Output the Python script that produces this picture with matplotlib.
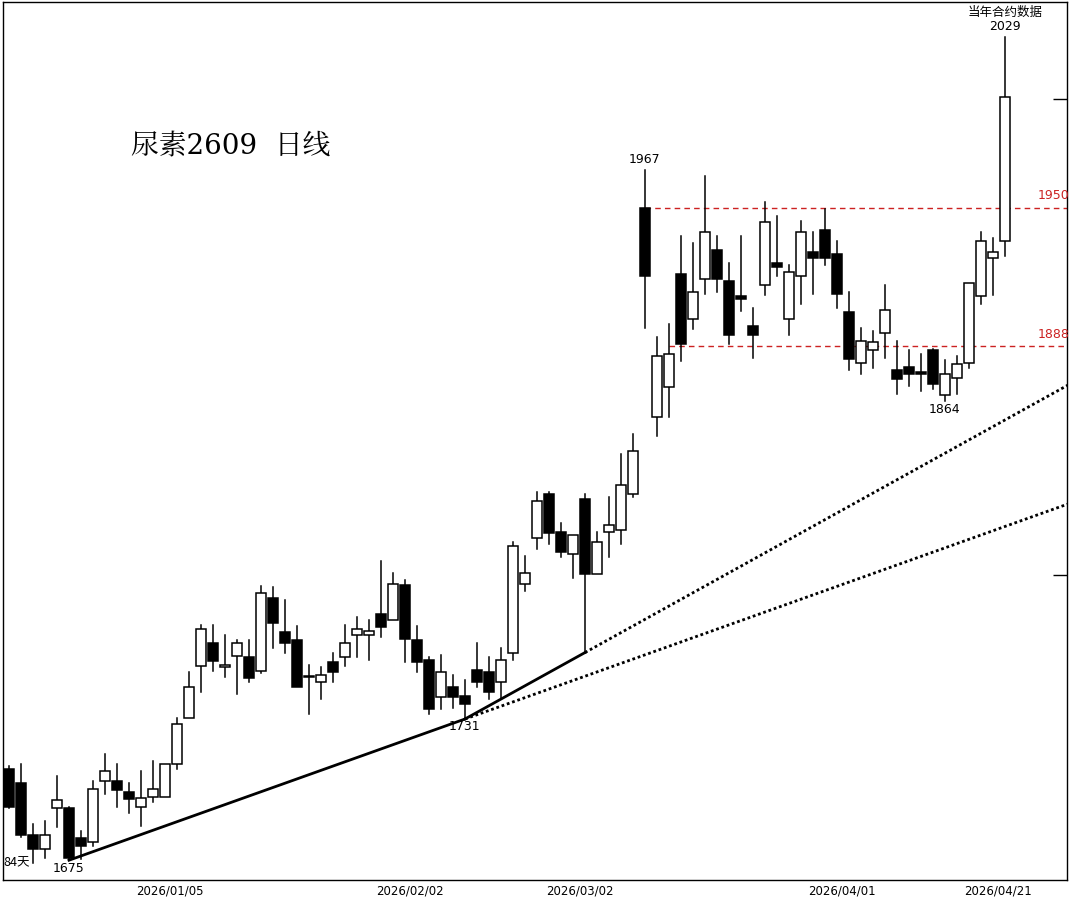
import numpy as np
import matplotlib
matplotlib.use("Agg")
import matplotlib.pyplot as plt
from matplotlib.patches import Rectangle

opens = [1711,1705.5,1685,1679.5,1695.5,1695.5,1683.5,1682,1706,1706,1702,1696,1700,1700,1713,1731.5,1752.5,1762,1752,1756.5,
         1756,1750.5,1780.5,1766.5,1763,1748.5,1746,1754,1756,1765,1765,1774,1771.5,1786,1763,1755,1740,1744,1740.5,1751,
         1750,1746,1758,1786.5,1805.5,1824,1808,1799,1822,1790.5,1808,1809,1824,1950,1857,1870,1920,1900,1918,1931,
         1917,1910,1897,1915,1925,1900,1919,1930,1940,1929,1903,1880.5,1886.5,1894,1877.5,1879,1876.5,1886.5,1866.5,1874,
         1880.5,1910,1927,1935]
highs = [1712,1713,1689,1690.5,1708,1696,1686.5,1706,1717,1713,1705.5,1710,1714,1713,1731.5,1750,1769.5,1769.5,1765,1763,
         1763,1785.5,1785,1779.5,1769,1753,1752,1758,1769.5,1772.5,1771.5,1796,1791,1788,1769,1756,1757,1749,1747,1762,
         1756,1760,1804,1798,1825,1825,1812,1807,1824,1808,1823,1841,1850,1967,1892,1898,1937,1934,1964.5,1937,
         1925,1937,1905,1952.5,1946,1924,1944,1939,1949.5,1935,1912,1896,1894.5,1915,1890.5,1886.5,1884.5,1887,1882,1883.5,
         1916,1939,1936,2029]
lows = [1695.5,1684,1674,1676,1688,1675,1675.5,1680.5,1701,1696,1693.5,1688.5,1698,1700,1711,1731.5,1742,1750.5,1748,1741,
        1746,1749.5,1760,1758,1744,1733,1739,1746,1752.5,1756,1755,1764.5,1771.5,1754,1750,1733,1735,1735.5,1731,1744,
        1739,1739,1755,1783.5,1801,1803,1797.5,1789,1758,1790.5,1797.5,1803,1823,1896,1849,1857,1881.5,1895.5,1911,1912,
        1889,1903.5,1883,1910.5,1919,1893,1906.5,1911,1924,1905,1877.5,1876,1878.5,1883,1867,1870.5,1868.5,1869.5,1864,1867,
        1878.5,1906.5,1910.5,1928]
closes = [1696,1685,1679.5,1685,1698.6,1676,1680.5,1703,1710,1702.5,1699,1699.5,1703,1713,1729,1744,1767.5,1754.5,1753,1762,
          1747.5,1782.5,1770,1762,1744,1748,1749,1750,1762,1767.5,1767,1768.5,1786.5,1763.5,1754,1735,1750,1740,1737,1746,
          1742,1755,1802,1791,1821,1807.5,1799.5,1807,1790.5,1804,1811,1828,1842.5,1919,1883.5,1884.5,1889,1912,1939,1918,
          1893,1909,1893,1943.5,1923,1921,1939,1927,1927,1911,1882.5,1890.5,1890,1904,1873.5,1876,1876,1871.5,1876,1880,
          1916,1935,1930,2001]

date_labels = ["2026/01/05", "2026/02/02", "2026/03/02", "2026/04/01", "2026/04/21"]
date_pos = [13.4, 33.4, 47.6, 69.4, 82.4]
levels = [1950, 1888]
level_start = [53, 55]
marks = [(53, 1967, "high"), (83, 2029, "high"), (78, 1864, "low"), (38, 1731, "low"), (5, 1675, "low")]

fig = plt.figure(figsize=(10.69, 9.0), dpi=100)
ax = fig.add_axes([3/1069, 20/900, 1064/1069, 878/900])
ax.set_yscale("log")
ax.set_xlim(-0.5, 88.17)
ax.set_ylim(1667.3, 2045.6)

w = 0.8
for i, (o, h, l, c) in enumerate(zip(opens, highs, lows, closes)):
    top, bot = max(o, c), min(o, c)
    ax.plot([i, i], [top, h], color="black", lw=1.1, zorder=2)
    ax.plot([i, i], [l, bot], color="black", lw=1.1, zorder=2)
    up = c >= o
    ax.add_patch(Rectangle((i - w/2, bot), w, max(top - bot, 0.6),
                           facecolor="white" if up else "black",
                           edgecolor="black", lw=1.1, zorder=3))

def logline(i1, p1, i2, p2, x):
    return np.exp(np.log(p1) + (np.log(p2) - np.log(p1)) * (x - i1) / (i2 - i1))

p5, p38, p48 = lows[5], lows[38], lows[48]
ax.plot([5, 38], [p5, p38], color="black", lw=2, zorder=4)
ax.plot([38, 48], [p38, p48], color="black", lw=2, zorder=4)
xe = 88.5
ax.plot([38, xe], [p38, logline(5, p5, 38, p38, xe)], color="black", lw=2, ls=(0, (1, 1)), zorder=4)
ax.plot([48, xe], [p48, logline(38, p38, 48, p48, xe)], color="black", lw=2, ls=(0, (1, 1)), zorder=4)

for lv, st in zip(levels, level_start):
    ax.plot([st, 88.17], [lv, lv], color="#cc2222", lw=1, ls=(0, (4, 3)), zorder=1)
    ax.text(88.4, lv * 1.0012, str(lv), color="#cc2222", fontsize=9, ha="right", va="bottom", clip_on=False)

for i, v, k in marks:
    if k == "high":
        ax.annotate(str(v), (i, v), xytext=(0, 3), textcoords="offset points", ha="center", va="bottom", fontsize=9)
    else:
        ax.annotate(str(v), (i, v), xytext=(0, -1), textcoords="offset points", ha="center", va="top", fontsize=9)

ax.text(83, 0.995, "当年合约数据", transform=ax.get_xaxis_transform(), ha="center", va="top", fontsize=9,
        family=["Noto Sans CJK SC", "DejaVu Sans"])
ax.text(0.0, 0.012, "84天", transform=ax.transAxes, ha="left", va="bottom", fontsize=9,
        family=["Noto Sans CJK SC", "DejaVu Sans"])
ax.text(0.12, 0.835, "尿素2609  日线", transform=ax.transAxes, ha="left", va="center", fontsize=20,
        family=["DejaVu Serif", "Noto Serif CJK SC", "Noto Sans CJK SC"])

ax.set_xticks(date_pos)
ax.set_xticklabels(date_labels, fontsize=8.5)
ax.tick_params(axis="x", length=0, pad=3)
ax.set_yticks([2000, 1790])
ax.set_yticks([], minor=True)
ax.yaxis.tick_right()
ax.tick_params(axis="y", which="major", direction="in", length=10, labelright=False, width=1)
for s in ax.spines.values():
    s.set_linewidth(1)

fig.savefig("out.png", dpi=100)
